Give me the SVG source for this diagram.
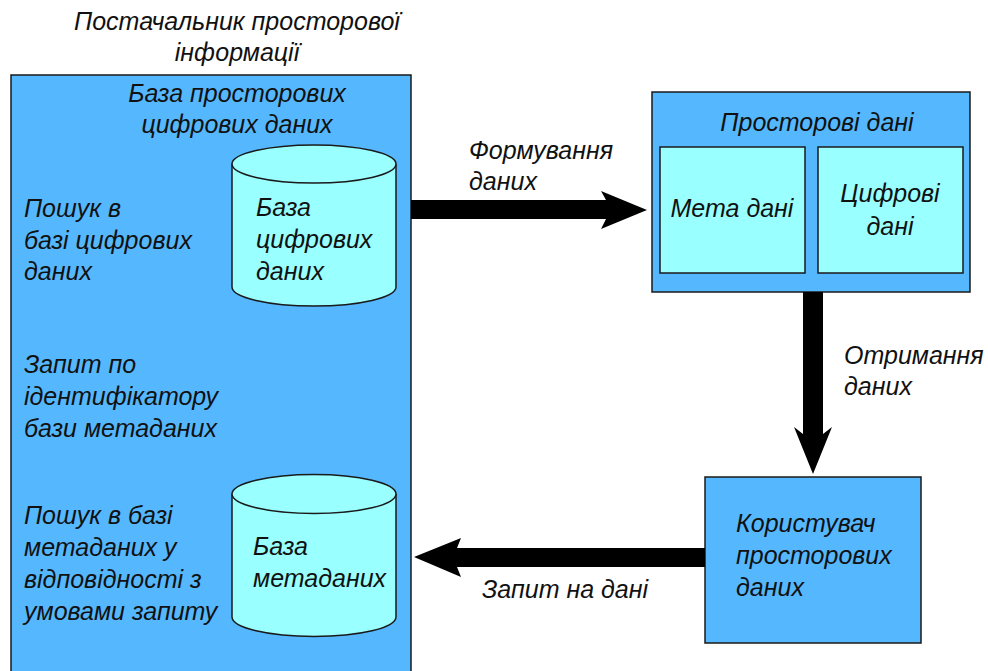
<svg xmlns="http://www.w3.org/2000/svg" width="988" height="671" viewBox="0 0 988 671">
<style>
text{font-family:"Liberation Sans","DejaVu Sans",sans-serif;font-style:italic;font-size:25px;fill:#111}
.c{text-anchor:middle}
.blue{fill:#55B8FF;stroke:#1a1a1a;stroke-width:1.5}
.cyan{fill:#99FFFF;stroke:#1a1a1a;stroke-width:1.5}
.arrow{fill:#000}
</style>
<rect width="988" height="671" fill="#fff"/>
<g id="provider">
<text class="c" x="237" y="30">Постачальник просторової</text>
<text class="c" x="237" y="61">інформації</text>
<rect class="blue" x="11" y="75" width="400" height="610"/>
<text class="c" x="237" y="102">База просторових</text>
<text class="c" x="237" y="133">цифрових даних</text>
<text x="24" y="217">Пошук в</text>
<text x="24" y="249">базі цифрових</text>
<text x="24" y="280">даних</text>
<text x="24" y="373">Запит по</text>
<text x="24" y="405">ідентифікатору</text>
<text x="24" y="437">бази метаданих</text>
<text x="24" y="524">Пошук в базі</text>
<text x="24" y="556">метаданих у</text>
<text x="24" y="588">відповідності з</text>
<text x="24" y="620">умовами запиту</text>
</g>
<g id="db-digital">
<path class="cyan" d="M232,164 A82,19 0 0 1 396,164 L396,287 A82,19 0 0 1 232,287 Z"/>
<path class="cyan" d="M232,164 A82,19 0 0 0 396,164" fill="none"/>
<text x="256" y="216">База</text>
<text x="256" y="248">цифрових</text>
<text x="256" y="280">даних</text>
</g>
<g id="db-meta">
<path class="cyan" d="M232,494 A82,19.5 0 0 1 396,494 L396,617 A82,19.5 0 0 1 232,617 Z"/>
<path class="cyan" d="M232,494 A82,19.5 0 0 0 396,494" fill="none"/>
<text x="253" y="555">База</text>
<text x="253" y="587">метаданих</text>
</g>
<g id="spatial-data">
<rect class="blue" x="652" y="92" width="318" height="200"/>
<text class="c" x="817" y="131">Просторові дані</text>
</g>
<g id="meta-data">
<rect class="cyan" x="660" y="147" width="145" height="126"/>
<text class="c" x="732" y="217">Мета дані</text>
</g>
<g id="digital-data">
<rect class="cyan" x="818" y="147" width="145" height="126"/>
<text class="c" x="890" y="202">Цифрові</text>
<text class="c" x="890" y="235">дані</text>
</g>
<g id="user">
<rect class="blue" x="705" y="477" width="216" height="166"/>
<text x="736" y="532">Користувач</text>
<text x="736" y="564">просторових</text>
<text x="736" y="596">даних</text>
</g>
<g id="connectors">
<polygon class="arrow" points="411,200 606,200 601,191 647,210 601,229 606,219 411,219"/>
<polygon class="arrow" points="803,292 823,292 823,434 832,427 813,474 794,427 803,434"/>
<polygon class="arrow" points="705,548 457,548 461,538 414,557 461,577 457,567 705,567"/>
<text x="469" y="159">Формування</text>
<text x="469" y="190">даних</text>
<text x="844" y="364">Отримання</text>
<text x="844" y="395">даних</text>
<text x="482" y="598">Запит на дані</text>
</g>
</svg>
